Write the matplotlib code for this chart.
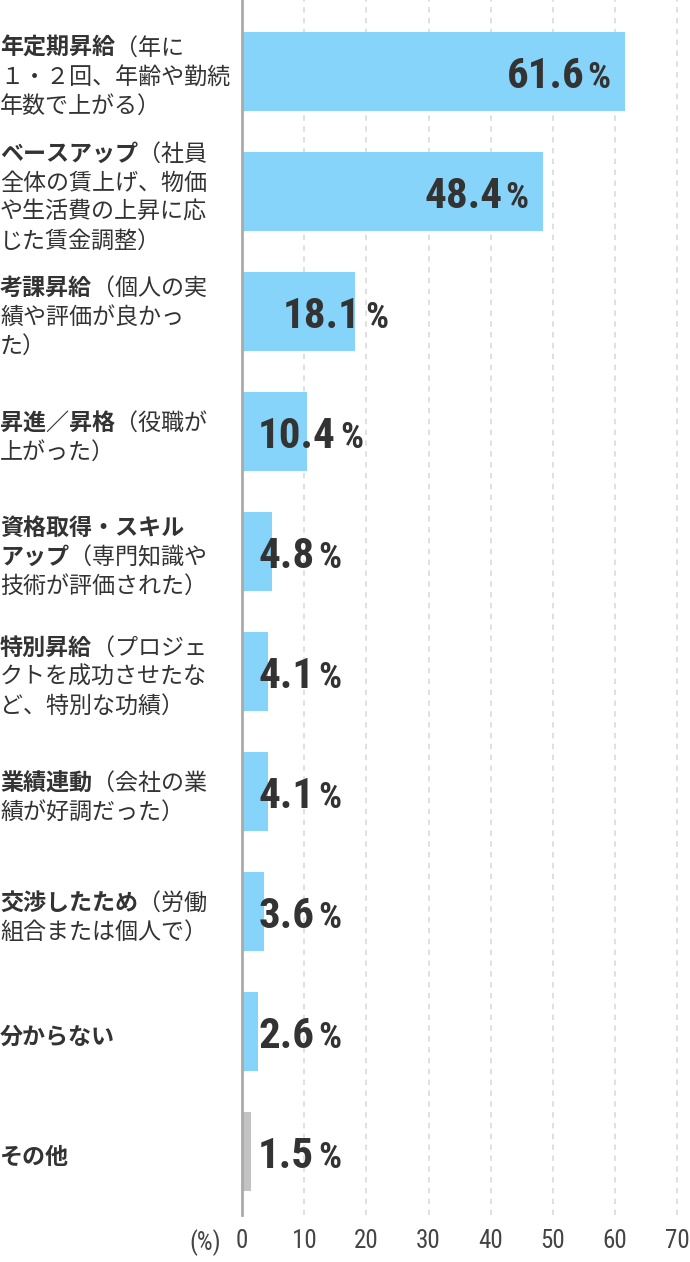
import matplotlib
matplotlib.use("Agg")
import matplotlib.pyplot as plt
from matplotlib import font_manager
from matplotlib.transforms import offset_copy, blended_transform_factory

# ---------------- data ----------------
label_lines = [
    [("年定期昇給", "（年に"), ("", "１・２回、年齢や勤続"), ("", "年数で上がる）")],
    [("ベースアップ", "（社員"), ("", "全体の賃上げ、物価"), ("", "や生活費の上昇に応"), ("", "じた賃金調整）")],
    [("考課昇給", "（個人の実"), ("", "績や評価が良かっ"), ("", "た）")],
    [("昇進／昇格", "（役職が"), ("", "上がった）")],
    [("資格取得・スキル", ""), ("アップ", "（専門知識や"), ("", "技術が評価された）")],
    [("特別昇給", "（プロジェ"), ("", "クトを成功させたな"), ("", "ど、特別な功績）")],
    [("業績連動", "（会社の業"), ("", "績が好調だった）")],
    [("交渉したため", "（労働"), ("", "組合または個人で）")],
    [("分からない", "")],
    [("その他", "")],
]
values = [61.6, 48.4, 18.1, 10.4, 4.8, 4.1, 4.1, 3.6, 2.6, 1.5]
bar_colors = ["#86D4FA"] * 9 + ["#C3C3C3"]
x_ticks = [0, 10, 20, 30, 40, 50, 60, 70]
unit_label = "(%)"

# ---------------- fonts ----------------
JP = ["Noto Sans CJK JP", "DejaVu Sans"]
names = {f.name for f in font_manager.fontManager.ttflist}
num_font, num_stretch = "Roboto", "normal"
for cand in ["Roboto Condensed", "Liberation Sans Narrow", "Open Sans Condensed"]:
    if cand in names:
        num_font = cand
        break
else:
    if any(f.name == "DejaVu Sans" and f.stretch == "condensed" for f in font_manager.fontManager.ttflist):
        num_font, num_stretch = "DejaVu Sans", "condensed"

TXT = "#333333"
JP_SIZE = 16.6

W, H = 690, 1262
fig = plt.figure(figsize=(W / 100, H / 100), dpi=100)
ax_left, ax_top, ax_bottom = 242, 0, 1215
ax = fig.add_axes([ax_left / W, (H - ax_bottom) / H, (W - ax_left) / W, (ax_bottom - ax_top) / H])

n = len(values)
ypos = list(range(n))
ax.barh(ypos, values, height=0.66, color=bar_colors, zorder=2)

ax.set_xlim(0, (W - ax_left) / 6.22)
step = 120.0
first_c = 71.5
ax.set_ylim((ax_bottom - first_c) / step, -(first_c - ax_top) / step)

for s in ["top", "right", "bottom"]:
    ax.spines[s].set_visible(False)
ax.spines["left"].set_color("#AAAAAA")
ax.spines["left"].set_linewidth(2)
ax.spines["left"].set_zorder(3)

ax.set_yticks([])
ax.set_xticks(x_ticks)
ax.set_xticklabels([str(t) for t in x_ticks], fontfamily=num_font, fontstretch=num_stretch,
                   fontsize=18, color="#444444")
ax.tick_params(axis="x", length=0, pad=10)
for t in x_ticks[1:]:
    ax.axvline(t, color="#DDDDDD", lw=1.3, ls=(0, (3, 3)), zorder=1)

ax.annotate(unit_label, xy=(0, 0), xycoords="axes fraction", xytext=(-21, -28),
            textcoords="offset pixels", ha="right", va="center",
            fontfamily=num_font, fontstretch=num_stretch, fontsize=18, color="#444444")

# ---------------- category labels ----------------
lab_trans = blended_transform_factory(fig.transFigure, ax.transData)
line_h = 29
for i, lines in enumerate(label_lines):
    nl = len(lines)
    for k, (b, r) in enumerate(lines):
        dy = -((k - (nl - 1) / 2) * line_h + 6)
        tr = offset_copy(lab_trans, fig=fig, x=0, y=dy, units="dots")
        if b:
            tb = ax.text(0.0, i, b, transform=tr, ha="left", va="center", fontsize=JP_SIZE,
                         fontweight="bold", family=JP, color=TXT)
            if r:
                ax.annotate(r, xy=(1, 0.5), xycoords=tb, ha="left", va="center",
                            fontsize=JP_SIZE, family=JP, color=TXT)
        else:
            ax.text(0.0, i, r, transform=tr, ha="left", va="center", fontsize=JP_SIZE,
                    family=JP, color=TXT)

# ---------------- value labels ----------------
fig.canvas.draw()
renderer = fig.canvas.get_renderer()
inv = ax.transData.inverted()
base_tr = offset_copy(ax.transData, fig=fig, y=-16, units="dots")
num_kw = dict(fontfamily=num_font, fontstretch=num_stretch, fontweight="bold", color=TXT)
PCT_SIZE = 26
for i, v in enumerate(values):
    if v >= 30:
        pct = ax.text(v, i, "%", ha="right", va="baseline", fontsize=PCT_SIZE,
                      transform=offset_copy(ax.transData, fig=fig, x=-15, y=-16, units="dots"), **num_kw)
        bb = pct.get_window_extent(renderer)
        xn = inv.transform((bb.x0 - 2, 0))[0]
        ax.text(xn, i, f"{v:.1f}", ha="right", va="baseline", fontsize=31, transform=base_tr, **num_kw)
    else:
        xl = max(2.6, v - 11.5)
        num = ax.text(xl, i, f"{v:.1f}", ha="left", va="baseline", fontsize=31, transform=base_tr, **num_kw)
        bb = num.get_window_extent(renderer)
        xp = inv.transform((bb.x1 + 4, 0))[0]
        ax.text(xp, i, "%", ha="left", va="baseline", fontsize=PCT_SIZE, transform=base_tr, **num_kw)

fig.savefig("out.png", dpi=100)
